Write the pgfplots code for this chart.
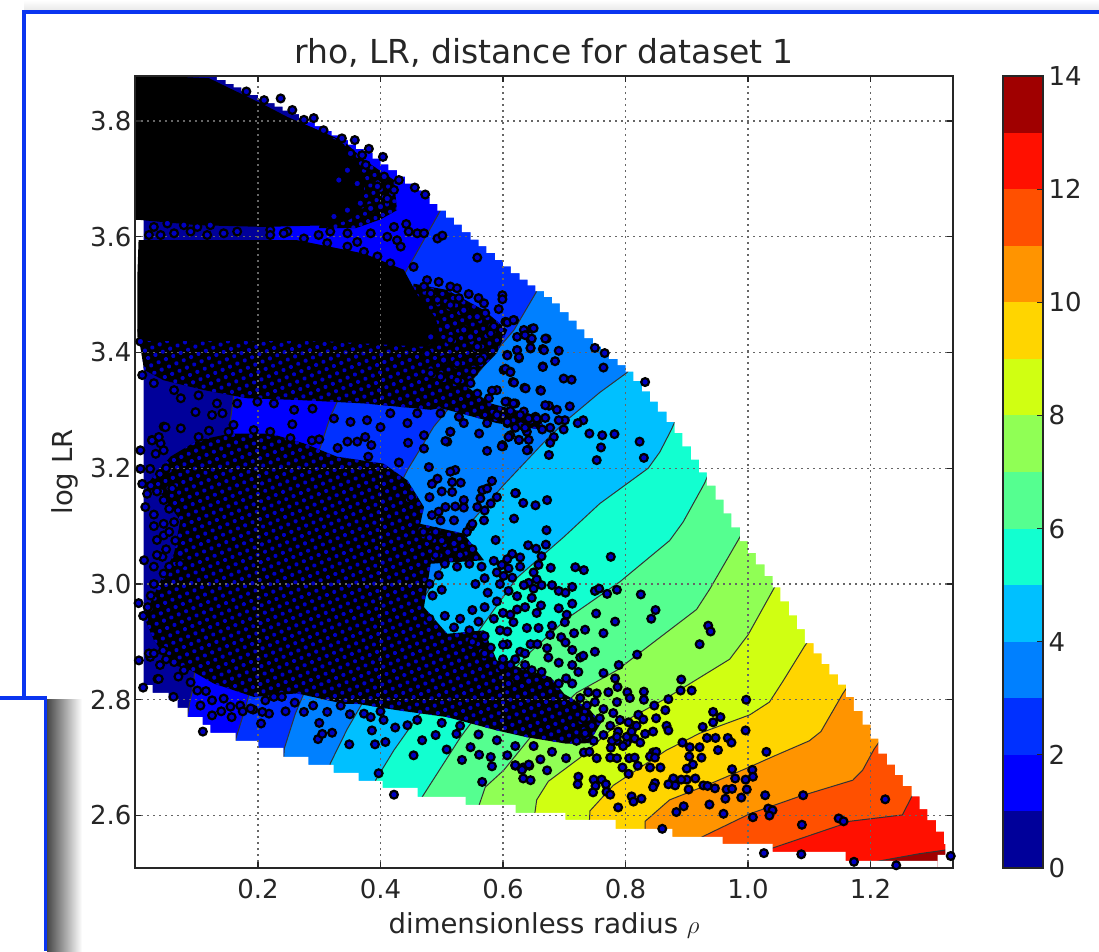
\documentclass[border=0pt]{standalone}
\usepackage{fontspec}
\setmainfont{DejaVu Sans}
\usepackage{pgfplots}
\pgfplotsset{compat=1.18}
\usetikzlibrary{patterns.meta}
\definecolor{c0}{HTML}{00009A}\definecolor{c1}{HTML}{0000FF}\definecolor{c2}{HTML}{0030FF}
\definecolor{c3}{HTML}{0080FF}\definecolor{c4}{HTML}{00C0FF}\definecolor{c5}{HTML}{12FFD0}
\definecolor{c6}{HTML}{55FF90}\definecolor{c7}{HTML}{90FF55}\definecolor{c8}{HTML}{D0FF12}
\definecolor{c9}{HTML}{FFD500}\definecolor{c10}{HTML}{FF9400}\definecolor{c11}{HTML}{FF5000}
\definecolor{c12}{HTML}{FF1000}\definecolor{c13}{HTML}{A00000}
\definecolor{frameblue}{HTML}{0A35F0}\definecolor{speck}{HTML}{0000C4}
\newcommand{\fs}{\fontsize{26}{30}\selectfont}
\tikzset{lev/.style={draw=black!80,line width=1pt,fill=#1},
 dense/.style={fill=black,draw=none,postaction={pattern={Dots[radius=2.1pt,distance=8pt,angle=23]},pattern color=speck}}}
\begin{document}
\begin{tikzpicture}[x=1pt,y=1pt]
\path[use as bounding box] (0,0) rectangle (1099,951);
% window decoration
\shade[top color=white,bottom color=black!10] (24,939) rectangle (1099,951);
\shade[left color=black!72,right color=white] (47,0) rectangle (82,252);
\fill[white] (0,0) rectangle (45,252);
\draw[frameblue,line width=3.2pt] (1099,939)--(24,939)--(24,253);
\draw[frameblue,line width=3.2pt] (0,253)--(45.5,253)--(45.5,0);
\begin{axis}[at={(135pt,83pt)},anchor=south west,width=818pt,height=792pt,scale only axis,
 xmin=-0.0008,xmax=1.3347,ymin=2.5093,ymax=3.8778,axis on top,
 grid=major,grid style={black!60,line width=1.3pt,dash pattern=on 1.6pt off 4.4pt},
 axis line style={line width=1.6pt,black!85},
 tick style={line width=1.2pt,black!85},major tick length=6pt,tick align=inside,
 xtick={0.2,0.4,0.6,0.8,1.0,1.2},ytick={2.6,2.8,3.0,3.2,3.4,3.6,3.8},
 /pgf/number format/assume math mode=true,
 /pgf/number format/fixed,/pgf/number format/fixed zerofill,/pgf/number format/precision=1,
 tick label style={font=\fs,text=black!85},
 xticklabel style={yshift=-8pt},
 xlabel={dimensionless radius $\rho$},ylabel={log LR},
 label style={font=\fontsize{27.5}{31}\selectfont,text=black!85},
 xlabel style={yshift=-7pt},ylabel style={yshift=5pt},
 title={rho, LR, distance for dataset 1},title style={font=\fontsize{33}{38}\selectfont,text=black!85,yshift=-1pt},
 clip=true]
\addplot[fill=c0,draw=none] coordinates {(-1,2)(2,2)(2,4)(-1,4)} --cycle;
\addplot[lev=c1] coordinates {(.06,2.4)(.084,2.770)(.095,2.828)(.11,3.0)(.13,3.15)(.155,3.283)(.17,3.40)(.22,3.6)(.27,3.8)(.30,4)(2,4)(2,2.4)} --cycle;
\addplot[lev=c2] coordinates {(.14,2.4)(.163,2.730)(.180,2.788)(.23,3.0)(.302,3.237)(.318,3.289)(.38,3.43)(.446,3.548)(.495,3.640)(.60,3.85)(.65,4)(2,4)(2,2.4)} --cycle;
\addplot[lev=c3] coordinates {(.22,2.4)(.243,2.716)(.261,2.776)(.35,3.0)(.444,3.197)(.487,3.272)(.590,3.404)(.618,3.439)(.653,3.502)(.75,3.7)(.8,4)(2,4)(2,2.4)} --cycle;
\addplot[lev=c4] coordinates {(.29,2.4)(.318,2.690)(.346,2.750)(.44,2.92)(.536,3.093)(.601,3.171)(.666,3.244)(.704,3.283)(.758,3.331)(.802,3.365)(.9,3.5)(1,4)(2,4)(2,2.4)} --cycle;
\addplot[lev=c5] coordinates {(.37,2.4)(.392,2.661)(.422,2.713)(.52,2.86)(.623,3.011)(.699,3.081)(.758,3.139)(.837,3.200)(.856,3.228)(.875,3.267)(.95,3.45)(1.05,4)(2,4)(2,2.4)} --cycle;
\addplot[lev=c6] coordinates {(.45,2.4)(.468,2.632)(.531,2.736)(.59,2.82)(.639,2.877)(.704,2.940)(.791,3.004)(.872,3.075)(.894,3.107)(.929,3.174)(1.0,3.35)(1.1,4)(2,4)(2,2.4)} --cycle;
\addplot[lev=c7] coordinates {(.555,2.4)(.561,2.618)(.571,2.649)(.601,2.678)(.650,2.742)(.720,2.812)(.786,2.851)(.916,2.956)(.938,2.992)(.984,3.076)(1.05,3.2)(1.2,4)(2,4)(2,2.4)} --cycle;
\addplot[lev=c8] coordinates {(.652,2.4)(.652,2.604)(.655,2.627)(.674,2.659)(.726,2.700)(.780,2.752)(.867,2.803)(.970,2.870)(1.000,2.912)(1.041,2.990)(1.1,3.1)(1.3,4)(2,4)(2,2.4)} --cycle;
\addplot[lev=c9] coordinates {(.741,2.4)(.741,2.590)(.742,2.608)(.780,2.652)(.867,2.713)(.921,2.742)(1.003,2.774)(1.035,2.796)(1.057,2.832)(1.092,2.892)(1.15,2.98)(1.4,4)(2,4)(2,2.4)} --cycle;
\addplot[lev=c10] coordinates {(.832,2.4)(.832,2.579)(.832,2.590)(.872,2.627)(.932,2.652)(1.003,2.684)(1.041,2.702)(1.100,2.729)(1.119,2.745)(1.155,2.811)(1.2,2.88)(1.5,4)(2,4)(2,2.4)} --cycle;
\addplot[lev=c11] coordinates {(.9,2.4)(.9,2.55)(.927,2.564)(1.003,2.603)(1.084,2.633)(1.171,2.661)(1.187,2.678)(1.206,2.715)(1.25,2.78)(1.6,4)(2,4)(2,2.4)} --cycle;
\addplot[lev=c12] coordinates {(1.0,2.4)(1.0,2.53)(1.038,2.543)(1.155,2.585)(1.166,2.590)(1.252,2.601)(1.266,2.630)(1.3,2.7)(1.7,4)(2,4)(2,2.4)} --cycle;
\addplot[lev=c13] coordinates {(1.15,2.4)(1.15,2.50)(1.212,2.521)(1.280,2.534)(1.320,2.540)(1.4,2.56)(1.9,4)(2,4)(2,2.4)} --cycle;
% masked grid cells outside the data
\addplot[const plot,fill=white,draw=none] coordinates {(.120,3.878)(.133,3.871)(.147,3.864)(.160,3.858)(.173,3.851)(.187,3.845)(.200,3.838)(.213,3.831)(.227,3.825)(.240,3.818)(.253,3.812)(.267,3.805)(.280,3.798)(.293,3.791)(.307,3.783)(.320,3.775)(.333,3.767)(.347,3.759)(.360,3.752)(.373,3.745)(.387,3.735)(.400,3.725)(.413,3.715)(.427,3.704)(.440,3.692)(.453,3.680)(.467,3.669)(.480,3.657)(.493,3.645)(.507,3.633)(.520,3.621)(.533,3.608)(.547,3.595)(.560,3.584)(.573,3.572)(.587,3.560)(.600,3.549)(.613,3.537)(.627,3.526)(.640,3.516)(.653,3.506)(.667,3.496)(.680,3.485)(.693,3.470)(.707,3.455)(.720,3.440)(.733,3.425)(.747,3.410)(.760,3.400)(.773,3.389)(.787,3.378)(.800,3.367)(.813,3.351)(.827,3.333)(.840,3.315)(.853,3.298)(.867,3.280)(.880,3.261)(.893,3.238)(.907,3.215)(.920,3.193)(.933,3.170)(.947,3.146)(.960,3.122)(.973,3.098)(.987,3.074)(1.000,3.054)(1.013,3.034)(1.027,3.014)(1.040,2.994)(1.053,2.970)(1.067,2.946)(1.080,2.922)(1.093,2.898)(1.107,2.880)(1.120,2.862)(1.133,2.844)(1.147,2.826)(1.160,2.805)(1.173,2.781)(1.187,2.757)(1.200,2.733)(1.213,2.707)(1.227,2.688)(1.240,2.670)(1.253,2.651)(1.267,2.633)(1.280,2.611)(1.293,2.592)(1.307,2.572)(1.320,2.551)(1.3224,2.532)(1.3094,2.45)(2,2.45)(2,4)(.12,4)} --cycle;
\addplot[fill=white,draw=none] coordinates {(-1,2.4)(1.3094,2.4)(1.3094,2.5214)(1.1592,2.5214)(1.1592,2.537)(1.04,2.537)(1.04,2.5508)(.9584,2.5508)(.9584,2.5629)(.8767,2.5629)(.8767,2.5767)(.7837,2.5767)(.7837,2.5923)(.702,2.5923)(.702,2.6044)(.6204,2.6044)(.6204,2.6182)(.5388,2.6182)(.5388,2.632)(.4604,2.632)(.4604,2.6476)(.4033,2.6476)(.4033,2.6597)(.3641,2.6597)(.3641,2.6735)(.3233,2.6735)(.3233,2.6873)(.2824,2.6873)(.2824,2.7011)(.2416,2.7011)(.2416,2.7167)(.2008,2.7167)(.2008,2.7288)(.1633,2.7288)(.1633,2.7426)(.1224,2.7426)(.1224,2.7564)(.1094,2.7564)(.1094,2.7702)(.0849,2.7702)(.0849,2.7858)(.0686,2.7858)(.0686,2.7996)(.0539,2.7996)(.0539,2.8117)(.0278,2.8117)(.0278,2.8255)(.0131,2.8255)(.0131,4)(-1,4)} --cycle;
% over-plotted parts of the scatter: speckled fringes first, solid masses over them
\addplot[dense] coordinates {(.286,3.79)(.340,3.765)(.373,3.733)(.422,3.698)(.427,3.646)(.40,3.63)(.36,3.615)(.30,3.615)} --cycle;
\addplot[dense] coordinates {(.454,3.519)(.509,3.508)(.569,3.473)(.607,3.439)(.590,3.399)(.563,3.370)(.541,3.341)(.580,3.312)(.661,3.289)(.667,3.266)(.590,3.278)(.509,3.301)(.438,3.318)} --cycle;
\addplot[dense] coordinates {(.003,3.44)(.47,3.44)(.47,3.37)(.52,3.335)(.536,3.312)(.482,3.301)(.373,3.312)(.264,3.318)(.182,3.321)(.112,3.335)(.046,3.352)(.014,3.37)} --cycle;
\addplot[fill=black,draw=none] coordinates {(-.01,3.88)(.120,3.874)(.155,3.856)(.210,3.828)(.248,3.807)(.286,3.79)(.340,3.76)(.375,3.70)(.37,3.65)(.35,3.63)(.32,3.62)(.210,3.617)(.101,3.620)(.008,3.629)(-.01,3.63)} --cycle;
\addplot[fill=black,draw=none] coordinates {(.005,3.594)(.155,3.594)(.264,3.594)(.373,3.571)(.438,3.543)(.46,3.50)(.49,3.46)(.50,3.42)(.47,3.41)(.30,3.42)(.02,3.42)(.003,3.427)(.003,3.531)} --cycle;
\addplot[dense] coordinates {(.024,3.179)(.057,3.220)(.101,3.248)(.155,3.260)(.220,3.260)(.275,3.243)(.329,3.220)(.405,3.208)(.444,3.179)(.471,3.133)(.465,3.104)(.536,3.087)(.569,3.041)(.482,3.035)(.471,2.960)(.509,2.914)(.569,2.920)(.590,2.868)(.678,2.839)(.70,2.81)(.74,2.785)(.76,2.76)(.74,2.725)(.704,2.724)(.640,2.735)(.590,2.747)(.509,2.770)(.427,2.782)(.362,2.793)(.340,2.793)(.264,2.811)(.193,2.805)(.128,2.828)(.090,2.851)(.057,2.862)(.030,2.903)(.014,2.943)(.041,3.006)(.063,3.053)(.073,3.110)(.046,3.150)} --cycle;
% individual scatter points
\addplot[only marks,mark=*,mark size=3.9pt,mark options={fill=speck,draw=black,line width=2.2pt}] coordinates {
(.750,3.408)(.766,3.399)(.764,3.374)(.832,3.349)(.699,3.355)(.712,3.353)(.685,3.385)(.665,3.376)(.691,3.403)(.665,3.406)(.671,3.424)(.647,3.441)(.661,3.335)(.635,3.339)(.616,3.349)(.675,3.308)(.688,3.301)(.709,3.307)(.731,3.283)(.722,3.278)(.741,3.260)(.762,3.257)(.782,3.259)(.823,3.246)(.830,3.218)(.760,3.236)(.753,3.214)(.675,3.223)(.641,3.232)
(.621,3.157)(.633,3.140)(.653,3.136)(.672,3.145)(.618,3.113)(.671,3.093)(.641,3.067)(.654,3.061)(.670,3.068)(.663,3.048)(.776,3.047)(.678,3.028)(.718,3.029)(.732,3.024)(.750,2.988)(.757,2.992)(.770,2.983)(.786,2.990)(.825,2.982)(.849,2.955)(.842,2.940)(.752,2.949)(.783,2.935)(.935,2.928)(.939,2.918)(.921,2.896)(.819,2.878)(.789,2.860)(.764,2.846)(.783,2.837)(.787,2.822)(.764,2.915)(.734,2.921)(.716,2.915)(.695,2.908)
(.891,2.835)(.890,2.816)(.908,2.816)(.997,2.800)(.943,2.779)(.955,2.770)(.943,2.761)(.926,2.753)(.996,2.747)(.870,2.801)(.865,2.782)(.847,2.790)(.830,2.814)(.830,2.800)(.803,2.813)(.807,2.803)(.786,2.796)(.772,2.813)(.753,2.811)(.739,2.813)(.850,2.768)(.867,2.755)(.870,2.747)(.821,2.774)(.829,2.766)(.813,2.755)(.845,2.745)(.832,2.741)(.815,2.733)(.802,2.726)(.824,2.726)(.786,2.729)(.776,2.717)(.796,2.720)
(.893,2.726)(.905,2.718)(.921,2.718)(.933,2.734)(.947,2.734)(.967,2.734)(.973,2.726)(.951,2.713)(1.030,2.710)(.904,2.702)(.924,2.700)(.910,2.688)(.900,2.681)(.974,2.680)(1.007,2.679)(1.008,2.667)(.979,2.664)(.996,2.662)(.914,2.664)(.900,2.662)(.891,2.662)(.878,2.664)(.881,2.652)(.870,2.654)(.848,2.656)(.845,2.649)(.927,2.652)(.934,2.651)(.946,2.647)(.903,2.645)(.965,2.645)(.974,2.646)(.998,2.645)(.963,2.629)(.989,2.631)(1.028,2.635)(1.090,2.635)(.937,2.619)(.895,2.616)(.883,2.606)(.960,2.603)(1.008,2.597)(1.033,2.612)(1.040,2.609)(1.035,2.600)(1.088,2.584)(1.224,2.628)(1.148,2.595)(1.156,2.590)(.860,2.577)(1.026,2.535)(1.087,2.533)(1.173,2.520)(1.242,2.514)(1.269,2.508)(1.331,2.530)
(.788,2.614)(.810,2.633)(.813,2.624)(.826,2.629)(.723,2.667)(.722,2.654)(.748,2.662)(.761,2.662)(.751,2.651)(.768,2.654)(.747,2.640)(.769,2.641)(.775,2.636)(.620,2.686)(.633,2.683)(.643,2.686)(.633,2.664)(.645,2.661)(.672,2.678)(.661,2.697)(.703,2.699)(.753,2.699)(.732,2.709)(.741,2.710)(.775,2.700)(.786,2.699)(.806,2.699)(.815,2.700)(.795,2.683)(.820,2.686)(.805,2.672)(.840,2.683)(.857,2.683)(.845,2.709)(.850,2.710)(.840,2.702)(.848,2.700)
(.110,2.745)(.125,2.773)(.157,2.770)(.0125,2.821)(.062,2.805)(.036,2.836)(.0055,2.868)(.014,3.041)(.008,3.231)(.008,3.199)(.011,3.173)(.005,2.967)(.0125,2.945)(.205,2.759)(.218,2.776)(.207,2.779)(.192,2.783)(.321,2.743)(.298,2.732)(.305,2.741)(.349,2.723)(.391,2.723)(.397,2.673)(.422,2.636)(.454,2.704)(.508,2.714)(.533,2.696)(.566,2.658)(.547,2.718)(.561,2.705)(.580,2.701)(.582,2.685)(.607,2.704)(.620,2.687)(.631,2.679)(.642,2.688)(.468,2.730)(.490,2.739)(.524,2.741)(.424,2.752)(.444,2.756)(.408,2.727)(.386,2.747)
(.574,3.230)(.600,3.238)(.639,3.231)(.509,3.246)(.471,3.234)(.514,3.263)(.445,3.244)(.400,3.271)(.375,3.254)(.385,3.240)(.362,3.246)(.346,3.246)(.620,3.157)(.588,3.076)(.582,3.178)(.590,3.150)(.569,3.110)(.547,3.099)(.570,3.127)
(.479,3.202)(.522,3.197)(.514,3.194)(.517,3.176)(.531,3.175)(.493,3.182)(.484,3.173)(.517,3.159)(.536,3.145)(.566,3.162)(.574,3.165)(.563,3.148)(.580,3.139)(.558,3.133)(.536,3.132)(.522,3.134)(.506,3.133)(.484,3.119)(.495,3.125)(.498,3.110)(.541,3.090)(.550,3.104)
(.237,3.839)(.291,3.805)(.181,3.851)(.210,3.836)(.256,3.819)(.275,3.802)(.307,3.784)(.337,3.770)(.358,3.767)(.381,3.752)(.404,3.738)(.370,3.741)(.351,3.744)(.376,3.724)(.406,3.704)(.430,3.698)(.422,3.681)(.456,3.685)(.473,3.673)(.411,3.666)(.400,3.652)(.384,3.649)(.395,3.687)(.362,3.692)(.346,3.715)(.332,3.698)(.367,3.658)(.346,3.646)(.324,3.635)
(.422,3.617)(.427,3.594)(.442,3.622)(.446,3.609)(.460,3.606)(.471,3.606)(.493,3.597)(.501,3.602)(.558,3.564)(.433,3.583)(.411,3.600)(.384,3.606)(.362,3.591)(.346,3.606)(.318,3.609)(.299,3.603)(.275,3.597)(.248,3.609)(.220,3.612)(.166,3.609)(.122,3.620)(.101,3.617)(.079,3.620)(.052,3.623)(.030,3.617)(.022,3.603)(.041,3.603)(.063,3.606)(.090,3.609)(.117,3.603)(.144,3.606)(.220,3.603)(.242,3.606)(.313,3.589)(.346,3.583)(.373,3.574)(.395,3.566)(.416,3.554)(.454,3.548)
(.476,3.525)(.495,3.522)(.514,3.514)(.525,3.511)(.544,3.501)(.560,3.494)(.569,3.485)(.599,3.499)(.599,3.492)(.593,3.475)(.528,3.494)(.493,3.491)(.471,3.514)(.482,3.502)(.514,3.482)(.536,3.473)(.558,3.462)(.571,3.468)(.585,3.445)(.604,3.453)(.618,3.456)(.634,3.439)(.650,3.442)(.669,3.424)(.623,3.427)(.645,3.422)(.645,3.407)(.667,3.404)(.623,3.404)(.626,3.390)(.665,3.375)(.607,3.396)(.601,3.370)(.612,3.367)(.618,3.348)(.637,3.338)(.662,3.334)(.590,3.335)(.582,3.334)(.569,3.393)(.580,3.433)(.547,3.427)(.536,3.439)(.509,3.445)(.514,3.422)(.558,3.410)(.563,3.387)(.552,3.367)(.547,3.347)(.525,3.381)(.503,3.387)(.482,3.427)(.476,3.398)(.498,3.358)(.482,3.364)(.525,3.352)
(.558,3.329)(.577,3.321)(.607,3.315)(.620,3.312)(.634,3.298)(.653,3.289)(.669,3.309)(.612,3.295)(.590,3.292)(.574,3.278)(.561,3.260)(.607,3.278)(.629,3.275)(.612,3.257)(.626,3.249)(.639,3.263)(.599,3.240)(.536,3.278)(.514,3.263)(.506,3.247)(.528,3.289)(.498,3.295)(.471,3.257)(.460,3.295)(.444,3.278)(.416,3.295)(.378,3.283)(.351,3.280)(.324,3.286)(.289,3.303)(.256,3.276)(.259,3.301)(.226,3.312)(.199,3.315)(.166,3.312)(.133,3.312)(.142,3.295)(.125,3.292)(.098,3.297)(.074,3.321)(.063,3.335)(.103,3.326)(.030,3.347)(.011,3.361)(.008,3.419)
(.074,3.269)(.046,3.272)(.027,3.249)(.041,3.243)(.103,3.254)(.152,3.263)(.193,3.266)(.220,3.263)(.253,3.252)(.288,3.248)
(.604,3.315)(.617,3.312)(.612,3.299)(.628,3.292)(.642,3.286)(.655,3.286)(.669,3.287)(.607,3.280)(.620,3.270)(.636,3.270)(.664,3.267)(.677,3.270)(.683,3.254)(.677,3.244)(.701,3.283)(.691,3.283)(.699,3.267)(.626,3.249)(.642,3.249)(.609,3.254)(.598,3.238)(.607,3.452)(.617,3.456)(.636,3.430)(.647,3.424)(.623,3.404)(.607,3.395)(.626,3.392)(.604,3.372)(.612,3.366)(.645,3.408)
(.615,3.052)(.628,3.046)(.607,3.043)(.598,3.033)(.609,3.027)(.628,3.030)(.658,3.033)(.650,3.020)(.601,3.014)(.615,3.011)(.655,3.008)(.642,3.002)(.634,2.998)(.663,2.998)(.680,2.998)(.691,2.988)(.702,2.985)(.713,2.995)(.713,2.966)(.650,2.992)(.609,2.988)(.623,2.979)(.647,2.976)(.662,2.963)(.691,2.958)(.636,2.960)(.623,2.956)(.655,2.950)(.612,2.947)(.704,2.947)(.701,2.934)(.680,2.928)(.658,2.924)(.639,2.924)(.617,2.934)(.607,2.918)(.677,2.912)(.645,2.896)(.656,2.896)(.607,2.896)(.702,2.899)(.713,2.886)(.672,2.889)(.628,2.883)(.636,2.880)(.674,2.873)(.726,2.873)(.713,2.860)(.691,2.864)(.663,2.848)(.723,2.848)(.636,2.860)(.647,2.851)(.612,2.860)(.598,2.857)(.623,2.838)(.642,2.832)(.609,2.828)(.703,2.837)(.691,2.828)(.713,2.828)(.731,2.876)(.750,2.883)
(.027,3.248)(.038,3.254)(.049,3.271)(.024,3.199)(.033,3.225)(.046,3.231)(.019,3.156)(.016,3.133)(.046,3.145)(.046,3.104)(.063,3.107)(.035,3.076)(.046,3.084)(.073,3.053)(.044,3.047)(.046,3.018)(.073,3.035)(.024,2.874)(.022,2.880)(.063,2.865)(.038,2.836)(.079,2.851)(.101,2.816)(.125,2.799)(.144,2.802)(.155,2.788)(.106,2.790)(.171,2.790)(.188,2.785)(.212,2.799)(.226,2.805)(.239,2.805)(.275,2.779)(.313,2.779)(.335,2.790)(.373,2.776)(.384,2.770)(.405,2.765)
(.480,3.08)(.50,3.075)(.52,3.07)(.49,3.05)(.51,3.055)(.53,3.05)(.55,3.06)(.505,3.035)(.525,3.03)(.545,3.035)(.565,3.03)(.585,3.04)(.59,3.02)(.57,3.01)(.555,3.0)(.495,3.015)(.48,3.0)(.50,2.99)(.575,2.985)(.595,3.0)(.59,2.97)(.57,2.96)(.55,2.955)(.53,2.94)(.505,2.945)(.485,2.98)(.48,2.94)(.56,2.935)(.585,2.94)(.60,2.95)(.52,2.925)(.545,2.92)(.57,2.91)(.595,2.92)(.58,2.89)(.6,2.895)(.55,2.90)(.62,2.87)(.60,2.87)(.57,2.88)
(.726,2.803)(.737,2.790)(.750,2.796)(.764,2.784)(.780,2.777)(.791,2.765)(.805,2.761)(.758,2.768)(.745,2.755)(.731,2.768)(.775,2.755)(.788,2.745)(.764,2.739)(.748,2.729)(.778,2.729)(.786,2.736)(.734,2.742)(.720,2.729)(.802,2.736)(.810,2.745)(.818,2.755)
(.025,3.17)(.035,3.16)(.03,3.12)(.055,3.13)(.06,3.165)(.04,3.19)(.05,3.2)(.03,3.10)(.055,3.09)(.065,3.075)(.05,3.06)(.035,3.05)(.03,3.03)(.055,3.03)(.03,3.0)(.025,2.98)(.02,2.96)(.03,2.88)(.045,2.885)(.05,2.87)(.04,2.86)(.07,2.84)(.09,2.83)(.115,2.815)(.14,2.78)(.175,2.78)(.245,2.78)(.26,2.795)(.29,2.79)(.30,2.76)(.35,2.775)(.40,2.78)(.46,2.765)(.50,2.76)(.53,2.755)(.56,2.74)(.59,2.73)(.62,2.72)(.65,2.72)(.68,2.71)(.43,3.21)(.38,3.22)(.33,3.235)(.30,3.25)(.16,3.275)(.12,3.265)(.45,3.15)(.48,3.15)(.50,3.16)(.49,3.09)(.52,3.11)(.47,3.09)
};
\end{axis}
\begin{axis}[at={(1003pt,83pt)},anchor=south west,width=40pt,height=792pt,scale only axis,
 xmin=0,xmax=1,ymin=0,ymax=14,axis on top,xtick=\empty,ytick={0,2,...,14},
 yticklabel pos=right,tick align=inside,major tick length=6pt,ytick pos=right,
 axis line style={line width=1.6pt,black!85},tick style={line width=1.2pt,black!85},
 /pgf/number format/assume math mode=true,
 tick label style={font=\fs,text=black!85,xshift=2pt}]
\addplot[fill=c0,draw=none] coordinates {(0,0)(1,0)(1,1)(0,1)} --cycle;
\addplot[fill=c1,draw=none] coordinates {(0,1)(1,1)(1,2)(0,2)} --cycle;
\addplot[fill=c2,draw=none] coordinates {(0,2)(1,2)(1,3)(0,3)} --cycle;
\addplot[fill=c3,draw=none] coordinates {(0,3)(1,3)(1,4)(0,4)} --cycle;
\addplot[fill=c4,draw=none] coordinates {(0,4)(1,4)(1,5)(0,5)} --cycle;
\addplot[fill=c5,draw=none] coordinates {(0,5)(1,5)(1,6)(0,6)} --cycle;
\addplot[fill=c6,draw=none] coordinates {(0,6)(1,6)(1,7)(0,7)} --cycle;
\addplot[fill=c7,draw=none] coordinates {(0,7)(1,7)(1,8)(0,8)} --cycle;
\addplot[fill=c8,draw=none] coordinates {(0,8)(1,8)(1,9)(0,9)} --cycle;
\addplot[fill=c9,draw=none] coordinates {(0,9)(1,9)(1,10)(0,10)} --cycle;
\addplot[fill=c10,draw=none] coordinates {(0,10)(1,10)(1,11)(0,11)} --cycle;
\addplot[fill=c11,draw=none] coordinates {(0,11)(1,11)(1,12)(0,12)} --cycle;
\addplot[fill=c12,draw=none] coordinates {(0,12)(1,12)(1,13)(0,13)} --cycle;
\addplot[fill=c13,draw=none] coordinates {(0,13)(1,13)(1,14)(0,14)} --cycle;
\end{axis}
\end{tikzpicture}
\end{document}
